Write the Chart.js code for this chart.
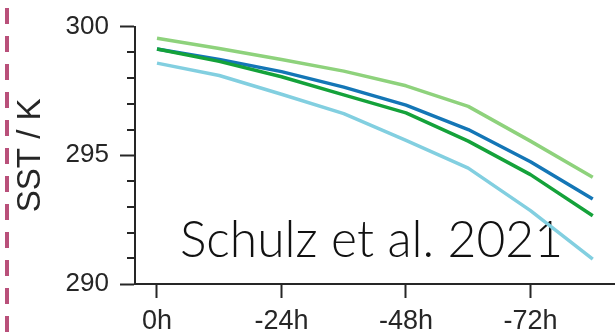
<!DOCTYPE html>
<html>
<head>
<meta charset="utf-8">
<script src="https://cdn.jsdelivr.net/npm/chart.js@4.4.1/dist/chart.umd.min.js"></script>
<style>
  html, body { margin: 0; padding: 0; background: #fff; }
  #wrap { position: relative; width: 615px; height: 333px; }
</style>
</head>
<body>
<div id="wrap"><canvas id="c" width="615" height="333"></canvas></div>
<script>
// Lead time in hours (0h = present, negative = earlier)
const hours = [0, -12, -24, -36, -48, -60, -72, -84];
const xTickValues = [0, -24, -48, -72];
const yTickValues = [290, 295, 300];
const yMinorValues = [291, 292, 293, 294, 296, 297, 298, 299];

// Sea-surface temperature along the trajectories (K)
const sstLightGreen = [299.55, 299.15, 298.72, 298.27, 297.70, 296.90, 295.55, 294.15];
const sstBlue       = [299.13, 298.72, 298.25, 297.65, 296.95, 296.00, 294.75, 293.30];
const sstGreen      = [299.13, 298.65, 298.05, 297.35, 296.65, 295.55, 294.25, 292.65];
const sstCyan       = [298.58, 298.10, 297.37, 296.62, 295.58, 294.50, 292.85, 290.97];

const annotationText = 'Schulz et al. 2021';

const axisColor = '#262626';
const tickFontY = { family: '"Liberation Sans", Arial, sans-serif', size: 26 };
const tickFontX = { family: '"Liberation Sans", Arial, sans-serif', size: 27 };
const titleFont = { family: '"Liberation Sans", Arial, sans-serif', size: 33 };

function series(values) {
  return hours.map((h, i) => ({ x: h, y: values[i] }));
}

// minor y ticks, citation text and the dashed separator at the left edge
const decorations = {
  id: 'decorations',
  beforeDatasetsDraw(chart) {
    const ctx = chart.ctx;
    const y = chart.scales.y;
    const area = chart.chartArea;
    ctx.save();
    ctx.strokeStyle = axisColor;
    ctx.lineWidth = 2;
    yMinorValues.forEach(v => {
      const py = Math.round(y.getPixelForValue(v));
      ctx.beginPath();
      ctx.moveTo(area.left - 8, py);
      ctx.lineTo(area.left, py);
      ctx.stroke();
    });
    // citation
    ctx.font = '300 51px Lato, "Open Sans", sans-serif';
    ctx.fillStyle = '#111';
    ctx.textBaseline = 'alphabetic';
    const w = ctx.measureText(annotationText).width;
    const targetW = 383;
    ctx.translate(180, 257);
    ctx.scale(targetW / w, 1);
    ctx.fillText(annotationText, 0, 0);
    ctx.restore();

    ctx.save();
    ctx.strokeStyle = '#b9507a';
    ctx.lineWidth = 4;
    ctx.setLineDash([16, 12]);
    ctx.beginPath();
    ctx.moveTo(7, 8);
    ctx.lineTo(7, 333);
    ctx.stroke();
    ctx.restore();
  }
};

new Chart(document.getElementById('c'), {
  type: 'line',
  data: {
    datasets: [
      { data: series(sstGreen), borderColor: '#14a23a', borderWidth: 3.5, order: 1 },
      { data: series(sstBlue), borderColor: '#1476b6', borderWidth: 3.5, order: 2 },
      { data: series(sstLightGreen), borderColor: '#8ed27c', borderWidth: 3.5, order: 3 },
      { data: series(sstCyan), borderColor: '#82cfe0', borderWidth: 3.5, order: 0 }
    ]
  },
  options: {
    responsive: false,
    animation: false,
    devicePixelRatio: 1,
    layout: { padding: { top: 21, right: 0, bottom: 0, left: 0 } },
    elements: {
      point: { radius: 0 },
      line: { tension: 0, borderCapStyle: 'butt', borderJoinStyle: 'round' }
    },
    plugins: { legend: { display: false }, tooltip: { enabled: false } },
    scales: {
      x: {
        type: 'linear',
        reverse: true,
        min: -88.29,
        max: 4.24,
        afterBuildTicks(scale) { scale.ticks = xTickValues.map(v => ({ value: v })); },
        afterFit(scale) { scale.height = 49; },
        grid: { drawOnChartArea: false, drawTicks: true, tickLength: 14, tickWidth: 2, tickColor: axisColor },
        border: { display: true, color: axisColor, width: 2 },
        ticks: {
          padding: 7,
          color: axisColor,
          font: tickFontX,
          maxRotation: 0,
          autoSkip: false,
          callback: v => v + 'h'
        }
      },
      y: {
        type: 'linear',
        min: 290,
        max: 300,
        afterBuildTicks(scale) { scale.ticks = yTickValues.map(v => ({ value: v })); },
        afterFit(scale) { scale.width = 135; },
        grid: { drawOnChartArea: false, drawTicks: true, tickLength: 15, tickWidth: 2, tickColor: axisColor },
        border: { display: true, color: axisColor, width: 2 },
        ticks: { padding: 11, color: axisColor, font: tickFontY },
        title: {
          display: true,
          text: 'SST / K',
          color: axisColor,
          font: titleFont,
          padding: { top: 11, bottom: 0 }
        }
      }
    }
  },
  plugins: [decorations]
});
</script>
</body>
</html>
